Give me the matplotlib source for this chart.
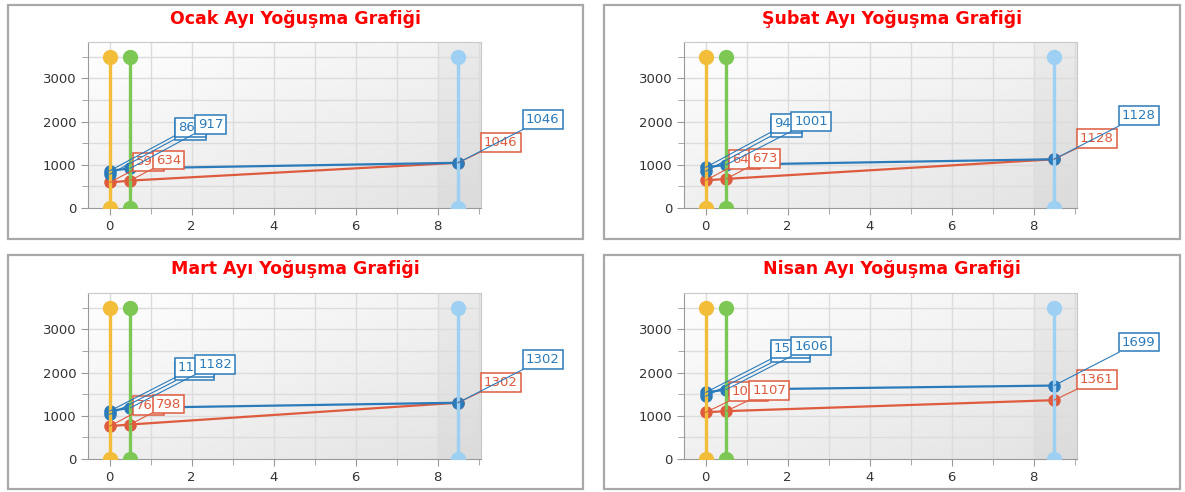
import numpy as np
import matplotlib
matplotlib.use("Agg")
import matplotlib.pyplot as plt
from matplotlib.patches import Rectangle

# monthly condensation values (dew point / vapour curves)
months = ["Ocak", "Şubat", "Mart", "Nisan"]
blue_x = [0, 0, 0.5, 8.5]
red_x = [0, 0.5, 8.5]
blue_vals = {
    "Ocak": [780, 860, 917, 1046],
    "Şubat": [850, 940, 1001, 1128],
    "Mart": [1030, 1110, 1182, 1302],
    "Nisan": [1450, 1540, 1606, 1699],
}
red_vals = {
    "Ocak": [590, 634, 1046],
    "Şubat": [640, 673, 1128],
    "Mart": [760, 798, 1302],
    "Nisan": [1080, 1107, 1361],
}
# layer boundaries drawn as vertical markers
layer_x = [0, 0.5, 8.5]
layer_y = [0, 3500]

BLUE = "#2B7BBA"; RED = "#DE5B3E"
LAYER_COLORS = ["#F2BE3A", "#7DC855", "#9DD0F2"]
FRAME = "#A8A8A8"; GRIDC = "#DCDCDC"; TICKC = "#333333"

W, H = 1185, 492
fig = plt.figure(figsize=(W / 100, H / 100), dpi=100)
fig.patch.set_facecolor("white")

# panel boxes and axes rects in pixels (left, top, right, bottom)
panels = [(8, 5, 583, 239), (604, 5, 1180, 239),
          (8, 255, 583, 489), (604, 255, 1180, 489)]
axrects = [(88, 42, 481, 208), (684, 42, 1077, 208),
           (88, 293, 481, 459), (684, 293, 1077, 459)]

XLIM = (-0.53, 9.06)
YLIM = (0, 3840)

# soft background: light centre fading to grey, darker strip on the right
gx = np.linspace(0, 1, 200)
gy = np.linspace(0, 1, 120)
GX, GY = np.meshgrid(gx, gy)
shade = 1.0 - 0.05 * GX - 0.06 * GY
xs = XLIM[0] + GX * (XLIM[1] - XLIM[0])
shade = np.where(xs > 8, shade - 0.03, shade)
bg = np.dstack([shade, shade, shade])

for month, pbox, arect in zip(months, panels, axrects):
    l, t, r, b = pbox
    fig.add_artist(Rectangle((l / W, 1 - b / H), (r - l) / W, (b - t) / H,
                             transform=fig.transFigure, fill=False,
                             ec=FRAME, lw=1.6))
    fig.text((l + r) / 2 / W, 1 - (t + 14) / H,
             f"{month} Ayı Yoğuşma Grafiği", color="#FF0000",
             fontsize=12.5, fontweight="bold", ha="center", va="center")

    al, at, ar, ab = arect
    ax = fig.add_axes([al / W, 1 - ab / H, (ar - al) / W, (ab - at) / H])
    ax.imshow(bg, extent=(*XLIM, *YLIM), origin="upper", aspect="auto",
              zorder=0, interpolation="bilinear")
    ax.set_xlim(*XLIM)
    ax.set_ylim(*YLIM)

    ax.set_xticks([0, 2, 4, 6, 8])
    ax.set_xticks([1, 3, 5, 7, 9], minor=True)
    ax.set_yticks([0, 1000, 2000, 3000])
    ax.set_yticks([500, 1500, 2500, 3500], minor=True)
    for xv in range(0, 10):
        ax.axvline(xv, color=GRIDC, lw=1, zorder=1)
    for yv in range(500, 4000, 500):
        ax.axhline(yv, color=GRIDC, lw=1, zorder=1)
    ax.tick_params(which="both", direction="out", color="#999999",
                   labelcolor=TICKC, labelsize=9.5, length=5)
    ax.tick_params(which="minor", length=4)
    for s in ax.spines.values():
        s.set_color("#C8C8C8")
    ax.spines["left"].set_color("#9A9A9A")
    ax.spines["bottom"].set_color("#9A9A9A")

    red = red_vals[month]
    blue = blue_vals[month]
    ax.plot(red_x, red, color=RED, lw=1.6, marker="o", ms=8, zorder=3)
    ax.plot(blue_x, blue, color=BLUE, lw=1.6, marker="o", ms=8, zorder=4)

    for xv, c in zip(layer_x, LAYER_COLORS):
        ax.plot([xv, xv], layer_y, color=c, lw=2.4, marker="o", ms=10,
                zorder=5)

    # value callouts
    for xv, yv in zip(red_x, red):
        ax.annotate(f"{yv}", (xv, yv), xytext=(26, 14),
                    textcoords="offset pixels", color=RED, fontsize=9.5,
                    ha="left", va="bottom", zorder=6, annotation_clip=False,
                    bbox=dict(boxstyle="square,pad=0.22", fc="white",
                              ec=RED, lw=1.1),
                    arrowprops=dict(arrowstyle="-", color=RED, lw=0.8,
                                    shrinkA=0, shrinkB=0))
    for xv, yv in zip(blue_x, blue):
        ax.annotate(f"{yv}", (xv, yv), xytext=(68, 37),
                    textcoords="offset pixels", color=BLUE, fontsize=9.5,
                    ha="left", va="bottom", zorder=7, annotation_clip=False,
                    bbox=dict(boxstyle="square,pad=0.22", fc="white",
                              ec=BLUE, lw=1.1),
                    arrowprops=dict(arrowstyle="-", color=BLUE, lw=0.8,
                                    shrinkA=0, shrinkB=0))

fig.savefig("out.png", dpi=100, facecolor="white")
